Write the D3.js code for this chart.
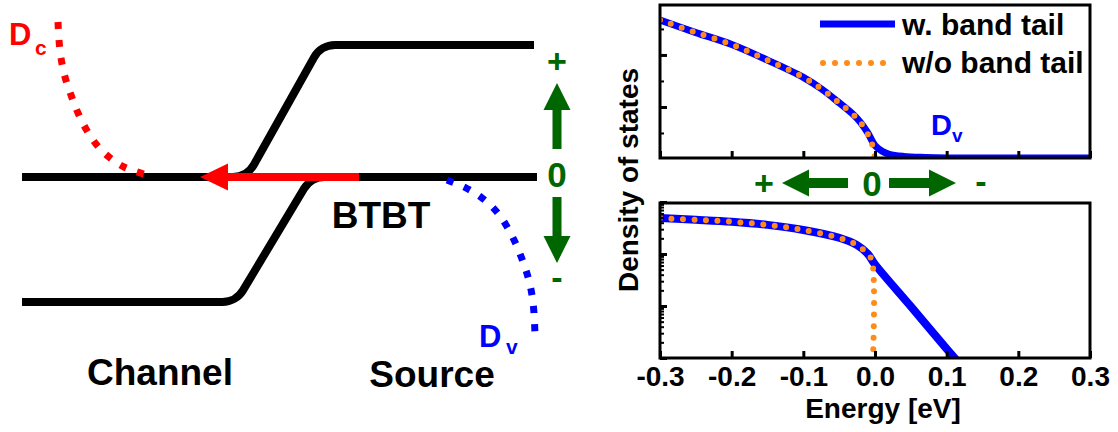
<!DOCTYPE html>
<html>
<head>
<meta charset="utf-8">
<script src="https://cdn.jsdelivr.net/npm/d3@7"></script>
<style>
body { margin: 0; background: #fff; }
text { font-family: "Liberation Sans", Arial, sans-serif; font-weight: bold; }
</style>
</head>
<body>
<svg width="1118" height="432"></svg>
<script>
// shared energy axis
var energyTicks = [-0.3, -0.2, -0.1, 0.0, 0.1, 0.2, 0.3];

// top panel: linear density of states
var topE      = [-0.30, -0.25, -0.20, -0.15, -0.10, -0.075, -0.05, -0.03, -0.02, -0.01, 0.00, 0.01, 0.02, 0.04, 0.07, 0.10, 0.20, 0.30];
var topTail   = [2.67, 2.43, 2.20, 1.90, 1.57, 1.35, 1.08, 0.85, 0.70, 0.50, 0.26, 0.15, 0.09, 0.05, 0.03, 0.02, 0.02, 0.02];
var topE0     = [-0.30, -0.25, -0.20, -0.15, -0.10, -0.075, -0.05, -0.03, -0.02, -0.01, -0.005, 0.00];
var topNoTail = [2.67, 2.43, 2.20, 1.90, 1.57, 1.35, 1.08, 0.85, 0.70, 0.48, 0.33, 0.00];

// bottom panel: log density of states
var botE      = [-0.30, -0.25, -0.20, -0.15, -0.10, -0.05, -0.025, -0.01, 0.00, 0.05, 0.10, 0.12];
var botTail   = [490, 455, 417, 363, 290, 205, 148, 100, 63, 9.8, 1.5, 0.72];
var botE0     = [-0.30, -0.25, -0.20, -0.15, -0.10, -0.05, -0.025, -0.01, -0.004, -0.0035];
var botNoTail = [490, 455, 417, 363, 290, 205, 148, 100, 72, 0.5];

var legendNames = ["w. band tail", "w/o band tail"];

// band diagram (schematic, drawing units)
var bandUpper = [[22, 177], [247, 177], [321, 45], [534, 45]];
var bandLower = [[22, 302], [236, 302], [311, 177], [537, 177]];
var dcPts = [[58, 22], [59, 40], [61, 58], [65, 77], [71, 95], [78, 113], [86, 129], [96, 144], [109, 157], [124, 167], [147, 175]];
var dvPts = [[447, 180], [466, 188], [482, 198], [496, 211], [506, 225], [515, 242], [522, 259], [528, 277], [532, 295], [534, 313], [535, 335]];

var RED = "#ff0000", BLUE = "#0000ff", ORANGE = "#ff8c1a", GREEN = "#006600";

var svg = d3.select("svg");

function rounded(pts, r) {
  var p = d3.path();
  p.moveTo(pts[0][0], pts[0][1]);
  for (var i = 1; i < pts.length - 1; i++)
    p.arcTo(pts[i][0], pts[i][1], pts[i + 1][0], pts[i + 1][1], r);
  p.lineTo(pts[pts.length - 1][0], pts[pts.length - 1][1]);
  return p.toString();
}

function arrow(p0, p1, color, shaft, headLen, headW) {
  var dx = p1[0] - p0[0], dy = p1[1] - p0[1], L = Math.hypot(dx, dy);
  var ux = dx / L, uy = dy / L, nx = -uy, ny = ux;
  var bx = p1[0] - ux * headLen, by = p1[1] - uy * headLen;
  var pts = [
    [p0[0] + nx * shaft / 2, p0[1] + ny * shaft / 2],
    [bx + nx * shaft / 2, by + ny * shaft / 2],
    [bx + nx * headW / 2, by + ny * headW / 2],
    p1,
    [bx - nx * headW / 2, by - ny * headW / 2],
    [bx - nx * shaft / 2, by - ny * shaft / 2],
    [p0[0] - nx * shaft / 2, p0[1] - ny * shaft / 2]
  ];
  svg.append("path").attr("d", d3.line()(pts) + "Z").attr("fill", color);
}

function label(t, x, y, size, color, anchor) {
  return svg.append("text").attr("x", x).attr("y", y)
    .attr("font-size", size).attr("fill", color || "#000")
    .attr("text-anchor", anchor || "start").text(t);
}

// ---- band diagram ----
[bandUpper, bandLower].forEach(function(b) {
  svg.append("path").attr("d", rounded(b, 24))
    .attr("fill", "none").attr("stroke", "#000").attr("stroke-width", 8);
});
arrow([359, 177], [200, 177], RED, 8, 28, 27);

var sline = d3.line().curve(d3.curveCatmullRom.alpha(0.5));
svg.append("path").attr("d", sline(dcPts)).attr("fill", "none")
  .attr("stroke", RED).attr("stroke-width", 7).attr("stroke-dasharray", "7 11");
svg.append("path").attr("d", sline(dvPts)).attr("fill", "none")
  .attr("stroke", BLUE).attr("stroke-width", 7).attr("stroke-dasharray", "7 11");

label("D", 9, 45, 31, RED);
label("c", 35, 55, 21, RED);
label("D", 479, 347, 31, BLUE);
label("v", 506, 354, 21, BLUE);
label("BTBT", 381, 228, 37, "#000", "middle");
label("Channel", 160, 385, 37, "#000", "middle");
label("Source", 432, 387, 37, "#000", "middle");

// vertical energy direction
label("+", 557, 73, 34, GREEN, "middle");
arrow([557, 149], [557, 83], GREEN, 9, 27, 27);
label("0", 557, 187, 35, GREEN, "middle");
arrow([557, 197], [557, 263], GREEN, 9, 27, 27);
label("-", 557, 289, 34, GREEN, "middle");

// horizontal energy direction between panels
label("+", 764, 195, 34, GREEN, "middle");
arrow([848, 183], [782, 183], GREEN, 10, 27, 27);
label("0", 872, 196, 35, GREEN, "middle");
arrow([889, 183], [956, 183], GREEN, 10, 27, 27);
label("-", 981, 193, 34, GREEN, "middle");

// ---- plots ----
var x = d3.scaleLinear().domain([-0.3, 0.3]).range([660, 1090]);
var yTop = d3.scaleLinear().domain([0, 2.96]).range([159, 5]);
var yBot = d3.scaleLog().domain([1, 1000]).range([358, 202]);

function panel(id, y, top, bottom, sets, majors, minors, showLabels) {
  svg.append("clipPath").attr("id", id).append("rect")
    .attr("x", 660).attr("y", top).attr("width", 430).attr("height", bottom - top);
  var g = svg.append("g").attr("clip-path", "url(#" + id + ")");
  sets.forEach(function(s) {
    var line = d3.line().curve(d3.curveCatmullRom.alpha(0.5))
      .x(function(d, i) { return x(s.e[i]); })
      .y(function(d) { return y(d); });
    var p = g.append("path").attr("d", line(s.v)).attr("fill", "none")
      .attr("stroke", s.color).attr("stroke-width", s.w);
    if (s.dots) p.attr("stroke-dasharray", "0 11.5").attr("stroke-linecap", "round");
  });

  var ax = svg.append("g").attr("transform", "translate(0," + bottom + ")")
    .call(d3.axisBottom(x).tickValues(energyTicks).tickSize(-7).tickPadding(8)
      .tickFormat(function(d) { return showLabels ? d.toFixed(1) : ""; }));
  ax.select(".domain").remove();
  ax.selectAll("line").attr("stroke-width", 3);
  ax.selectAll("text").attr("font-size", 28).attr("fill", "#000")
    .attr("font-family", "'Liberation Sans', Arial, sans-serif").attr("font-weight", "bold");

  var ay = svg.append("g").attr("transform", "translate(660,0)")
    .call(d3.axisLeft(y).tickValues(majors).tickSize(-7).tickFormat(""));
  ay.select(".domain").remove();
  ay.selectAll("line").attr("stroke-width", 3);
  var am = svg.append("g").attr("transform", "translate(660,0)")
    .call(d3.axisLeft(y).tickValues(minors).tickSize(-4).tickFormat(""));
  am.select(".domain").remove();
  am.selectAll("line").attr("stroke-width", 2);

  svg.append("rect").attr("x", 660).attr("y", top).attr("width", 430).attr("height", bottom - top)
    .attr("fill", "none").attr("stroke", "#000").attr("stroke-width", 3);
}

panel("clipTop", yTop, 5, 158, [
  { e: topE, v: topTail, color: BLUE, w: 7 },
  { e: topE0, v: topNoTail, color: ORANGE, w: 6, dots: true }
], [1, 2], [0.5, 1.5, 2.5], false);

var logMinor = [];
[1, 10, 100].forEach(function(dec) {
  for (var k = 2; k <= 9; k++) logMinor.push(dec * k);
});
panel("clipBot", yBot, 203, 358, [
  { e: botE, v: botTail, color: BLUE, w: 8 },
  { e: botE0, v: botNoTail, color: ORANGE, w: 6, dots: true }
], [1, 10, 100, 1000], logMinor, true);

// legend
svg.append("line").attr("x1", 820).attr("x2", 895).attr("y1", 24).attr("y2", 24)
  .attr("stroke", BLUE).attr("stroke-width", 7);
svg.append("line").attr("x1", 823).attr("x2", 885).attr("y1", 63).attr("y2", 63)
  .attr("stroke", ORANGE).attr("stroke-width", 6)
  .attr("stroke-dasharray", "0 12").attr("stroke-linecap", "round");
label(legendNames[0], 902, 35, 30);
label(legendNames[1], 902, 73, 30);

label("D", 931, 135, 29, BLUE);
label("v", 952, 142, 19, BLUE);

// axis titles
label("Energy [eV]", 883, 418, 28, "#000", "middle");
svg.append("text").attr("transform", "translate(638,180) rotate(-90)")
  .attr("text-anchor", "middle").attr("font-size", 28).text("Density of states");
</script>
</body>
</html>
